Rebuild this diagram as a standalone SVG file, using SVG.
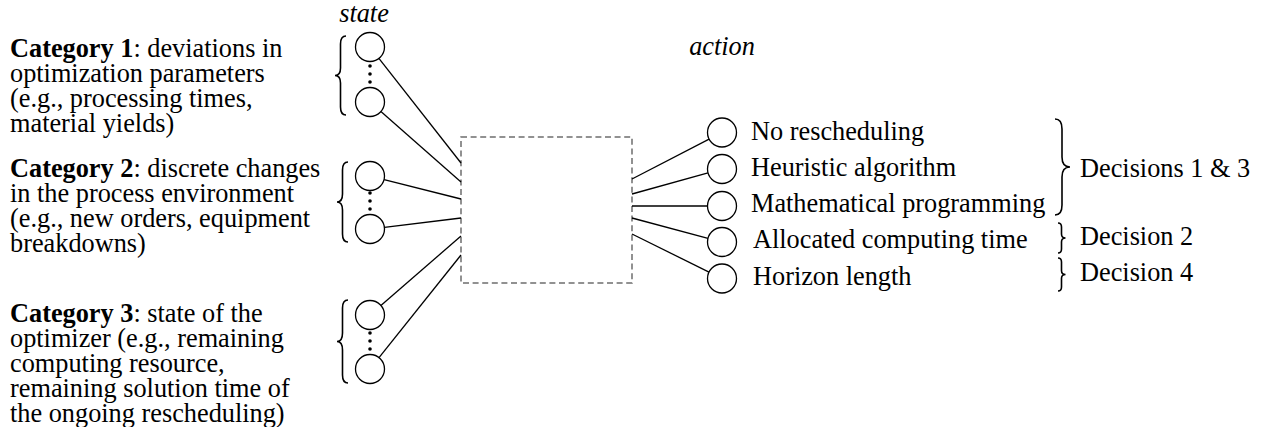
<svg xmlns="http://www.w3.org/2000/svg" width="1268" height="427" viewBox="0 0 1268 427" font-family="'Liberation Serif', 'DejaVu Serif', serif">
<style>
text{font-family:'Liberation Serif','DejaVu Serif',serif;font-size:26.3px;fill:#000}
.b{font-weight:bold}
.i{font-style:italic}
.c{fill:#fff;stroke:#000;stroke-width:1.3}
.l{stroke:#000;stroke-width:1.3;fill:none}
.br{stroke:#000;stroke-width:1.6;fill:none}
.box{fill:none;stroke:#6e6e6e;stroke-width:1.5;stroke-dasharray:6 3.6}
</style>
<rect width="1268" height="427" fill="#fff"/>
<text class="i" x="364" y="22" text-anchor="middle">state</text>
<text class="i" x="722" y="55" text-anchor="middle">action</text>

<g id="category1">
<text x="10" y="57"><tspan class="b">Category 1</tspan>: deviations in</text>
<text x="10" y="82">optimization parameters</text>
<text x="10" y="107">(e.g., processing times,</text>
<text x="10" y="132">material yields)</text>
<path class="br" d="M346 36 Q340.5 36 340.5 44 L340.5 68 Q340.5 75.5 335 75.5 Q340.5 75.5 340.5 83 L340.5 107 Q340.5 115 346 115"/>
<circle class="c" cx="370" cy="47" r="14.5"/>
<circle class="c" cx="370" cy="102" r="14.5"/>
<circle cx="370" cy="66" r="1.8"/><circle cx="370" cy="74" r="1.8"/><circle cx="370" cy="82" r="1.8"/>
</g>

<g id="category2">
<text x="10" y="176.5"><tspan class="b">Category 2</tspan>: discrete changes</text>
<text x="10" y="201.5">in the process environment</text>
<text x="10" y="226.5">(e.g., new orders, equipment</text>
<text x="10" y="251.5">breakdowns)</text>
<path class="br" d="M348 162 Q342.5 162 342.5 170 L342.5 194 Q342.5 202 337 202 Q342.5 202 342.5 210 L342.5 234 Q342.5 242 348 242"/>
<circle class="c" cx="370" cy="176" r="14.5"/>
<circle class="c" cx="370" cy="229" r="14.5"/>
<circle cx="370" cy="193" r="1.8"/><circle cx="370" cy="201" r="1.8"/><circle cx="370" cy="209" r="1.8"/>
</g>

<g id="category3">
<text x="10" y="321.7"><tspan class="b">Category 3</tspan>: state of the</text>
<text x="10" y="346.7">optimizer (e.g., remaining</text>
<text x="10" y="371.7">computing resource,</text>
<text x="10" y="396.7">remaining solution time of</text>
<text x="10" y="421.7">the ongoing rescheduling)</text>
<path class="br" d="M348 300 Q342.5 300 342.5 308 L342.5 333 Q342.5 341.5 337 341.5 Q342.5 341.5 342.5 350 L342.5 375 Q342.5 383 348 383"/>
<circle class="c" cx="370" cy="315" r="14.5"/>
<circle class="c" cx="370" cy="369" r="14.5"/>
<circle cx="370" cy="333" r="1.8"/><circle cx="370" cy="341" r="1.8"/><circle cx="370" cy="349" r="1.8"/>
</g>

<g id="policy">
<rect class="box" x="461" y="137" width="171" height="146"/>
</g>

<g id="connectors">
<line class="l" x1="378.9" y1="58.4" x2="461" y2="163"/>
<line class="l" x1="380.9" y1="111.6" x2="461" y2="182"/>
<line class="l" x1="384.1" y1="179.6" x2="461" y2="199"/>
<line class="l" x1="384.4" y1="227.3" x2="461" y2="218"/>
<line class="l" x1="380.9" y1="305.5" x2="461" y2="236"/>
<line class="l" x1="379" y1="357.7" x2="461" y2="255"/>
<line class="l" x1="632" y1="179" x2="709.1" y2="139.2"/>
<line class="l" x1="632" y1="194" x2="708" y2="172.9"/>
<line class="l" x1="632" y1="206" x2="707.5" y2="206"/>
<line class="l" x1="632" y1="218" x2="708" y2="238.3"/>
<line class="l" x1="632" y1="234" x2="709" y2="272.1"/>
</g>

<g id="action1"><circle class="c" cx="722" cy="132.5" r="14.5"/><text x="751" y="139.5">No rescheduling</text></g>
<g id="action2"><circle class="c" cx="722" cy="169" r="14.5"/><text x="751" y="175.8">Heuristic algorithm</text></g>
<g id="action3"><circle class="c" cx="722" cy="206" r="14.5"/><text x="751" y="212.1">Mathematical programming</text></g>
<g id="action4"><circle class="c" cx="722" cy="242" r="14.5"/><text x="753" y="248.4">Allocated computing time</text></g>
<g id="action5"><circle class="c" cx="722" cy="278.5" r="14.5"/><text x="753" y="284.7">Horizon length</text></g>

<g id="decisions13">
<path class="br" d="M1055 119 Q1062 119 1062 129 L1062 157 Q1062 167 1070 167 Q1062 167 1062 177 L1062 205 Q1062 215 1055 215"/>
<text x="1080" y="176.7">Decisions 1 &amp; 3</text>
</g>
<g id="decision2">
<path class="br" d="M1058 223 Q1061.5 223 1061.5 227 L1061.5 234 Q1061.5 238 1065.5 238 Q1061.5 238 1061.5 242 L1061.5 249 Q1061.5 253 1058 253"/>
<text x="1080" y="245">Decision 2</text>
</g>
<g id="decision4">
<path class="br" d="M1058 258 Q1061.5 258 1061.5 262 L1061.5 270.5 Q1061.5 274.5 1065.5 274.5 Q1061.5 274.5 1061.5 278.5 L1061.5 287 Q1061.5 291 1058 291"/>
<text x="1080" y="280.7">Decision 4</text>
</g>
</svg>
